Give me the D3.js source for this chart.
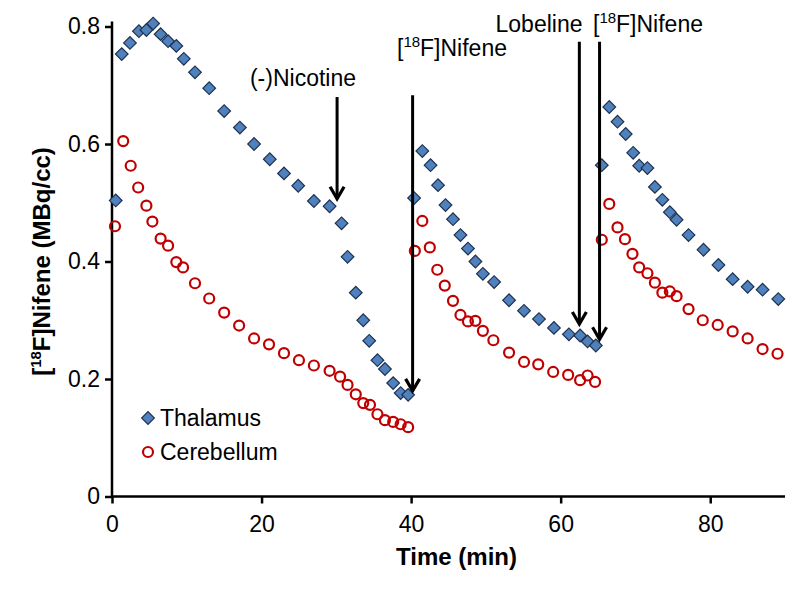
<!DOCTYPE html>
<html>
<head>
<meta charset="utf-8">
<script src="https://cdn.jsdelivr.net/npm/d3@7"></script>
<style>
  body { margin: 0; background: #fff; }
  svg { font-family: "Liberation Sans", Arial, sans-serif; }
</style>
</head>
<body>
<div id="chart"></div>
<script>
// thalamus: [time (min), value (MBq/cc)]
const thalamusT = [0.5, 1.3, 2.4, 3.6, 4.6, 5.5, 6.5, 7.5, 8.6, 9.6, 11.1, 13.0, 15.0, 17.1, 19.0, 21.1, 23.0, 24.9, 27.0, 29.1, 30.7, 31.5, 32.6, 33.6, 34.4, 35.5, 36.5, 37.6, 38.6, 39.6,
  40.4, 41.5, 42.6, 43.6, 44.6, 45.6, 46.6, 47.6, 48.6, 49.6, 51.1, 53.1, 55.1, 57.1, 59.1, 61.1, 62.6, 63.6, 64.7,
  65.5, 66.5, 67.6, 68.7, 69.7, 70.5, 71.6, 72.6, 73.6, 74.6, 75.5, 77.1, 79.1, 81.1, 83.0, 85.0, 87.0, 89.1];
const thalamusV = [0.504, 0.753, 0.772, 0.792, 0.794, 0.805, 0.787, 0.775, 0.767, 0.745, 0.722, 0.695, 0.656, 0.628, 0.600, 0.574, 0.550, 0.529, 0.503, 0.494, 0.465, 0.408, 0.347, 0.300, 0.265, 0.232, 0.217, 0.193, 0.176, 0.173,
  0.508, 0.588, 0.564, 0.530, 0.496, 0.472, 0.445, 0.422, 0.400, 0.379, 0.365, 0.334, 0.316, 0.302, 0.287, 0.276, 0.274, 0.264, 0.257,
  0.564, 0.663, 0.638, 0.617, 0.585, 0.563, 0.559, 0.527, 0.505, 0.484, 0.471, 0.445, 0.420, 0.394, 0.370, 0.357, 0.352, 0.336];

const cerebellumT = [0.4, 1.5, 2.5, 3.5, 4.6, 5.4, 6.5, 7.5, 8.6, 9.5, 11.1, 13.0, 15.0, 17.0, 19.0, 21.0, 23.0, 25.0, 27.0, 29.1, 30.5, 31.5, 32.6, 33.6, 34.5, 35.5, 36.5, 37.6, 38.6, 39.6,
  40.5, 41.5, 42.5, 43.5, 44.5, 45.6, 46.6, 47.6, 48.6, 49.6, 51.0, 53.1, 55.1, 57.0, 59.0, 61.0, 62.6, 63.6, 64.6,
  65.5, 66.5, 67.6, 68.6, 69.6, 70.5, 71.6, 72.6, 73.6, 74.6, 75.5, 77.1, 79.0, 81.0, 83.0, 85.0, 87.0, 89.0];
const cerebellumV = [0.460, 0.605, 0.563, 0.526, 0.495, 0.468, 0.439, 0.427, 0.399, 0.390, 0.363, 0.337, 0.313, 0.291, 0.269, 0.259, 0.244, 0.232, 0.223, 0.214, 0.204, 0.190, 0.174, 0.159, 0.156, 0.140, 0.130, 0.127, 0.123, 0.118,
  0.418, 0.469, 0.424, 0.386, 0.359, 0.333, 0.309, 0.298, 0.299, 0.282, 0.266, 0.245, 0.229, 0.225, 0.212, 0.207, 0.198, 0.206, 0.195,
  0.437, 0.498, 0.458, 0.438, 0.413, 0.390, 0.380, 0.364, 0.347, 0.349, 0.341, 0.319, 0.300, 0.292, 0.281, 0.269, 0.251, 0.243];

const xTicks = [0, 20, 40, 60, 80];
const yTicks = [0, 0.2, 0.4, 0.6, 0.8];

// injections / arrows: label, time, arrow top value, arrow tip value
const arrowLabels = ["(-)Nicotine", "[18F]Nifene", "Lobeline", "[18F]Nifene"];
const arrowTimes = [30.1, 40.2, 62.5, 65.2];
const arrowTops = [0.68, 0.683, 0.774, 0.774];
const arrowTips = [0.505, 0.178, 0.292, 0.266];

const W = 800, H = 589;
const x = d3.scaleLinear().domain([0, 90]).range([112, 785]);
const y = d3.scaleLinear().domain([0, 0.8]).range([496.5, 26.5]);

const svg = d3.select("#chart").append("svg")
  .attr("width", W).attr("height", H);

// axes
const xAxis = svg.append("g")
  .attr("transform", `translate(0,${y(0)})`)
  .call(d3.axisBottom(x).tickValues(xTicks).tickFormat(d3.format("d")).tickSizeInner(7).tickSizeOuter(0).tickPadding(12));
const yAxis = svg.append("g")
  .attr("transform", `translate(${x(0)},0)`)
  .call(d3.axisLeft(y).tickValues(yTicks).tickFormat(d => d === 0 ? "0" : d3.format(".1f")(d)).tickSizeInner(7).tickSizeOuter(0).tickPadding(5));

[xAxis, yAxis].forEach(g => {
  g.select(".domain").attr("stroke", "#000").attr("stroke-width", 2.5);
  g.selectAll(".tick line").attr("stroke", "#000").attr("stroke-width", 2.5);
  g.selectAll(".tick text").attr("fill", "#000").style("font-size", "23px")
    .style("font-family", "'Liberation Sans', Arial, sans-serif");
});
xAxis.select(".domain").attr("d", `M${x(0)},0H${x(90)}`);
yAxis.select(".domain").attr("d", `M0,${y(0)}V${y(0.8) - 5}`);

// axis titles
svg.append("text")
  .attr("x", (x(0) + x(90)) / 2 + 8).attr("y", 565)
  .attr("text-anchor", "middle")
  .style("font-size", "24px").style("font-weight", "bold")
  .text("Time (min)");

const yl = svg.append("text")
  .attr("transform", `translate(50,${y(0.4)}) rotate(-90)`)
  .attr("text-anchor", "middle")
  .style("font-size", "24px").style("font-weight", "bold");
yl.append("tspan").text("[");
yl.append("tspan").attr("dy", -9).style("font-size", "15px").text("18");
yl.append("tspan").attr("dy", 9).text("F]Nifene (MBq/cc)");

// markers
const thal = thalamusT.map((t, i) => [t, thalamusV[i]]);
const cer = cerebellumT.map((t, i) => [t, cerebellumV[i]]);
const diamond = d3.symbol().type(d3.symbolSquare).size(80);

svg.append("g").selectAll("path")
  .data(thal).enter().append("path")
  .attr("d", diamond)
  .attr("transform", d => `translate(${x(d[0])},${y(d[1])}) rotate(45)`)
  .attr("fill", "#4f81bd")
  .attr("stroke", "#1f3150")
  .attr("stroke-width", 1.2);

svg.append("g").selectAll("circle")
  .data(cer).enter().append("circle")
  .attr("cx", d => x(d[0]))
  .attr("cy", d => y(d[1]))
  .attr("r", 5)
  .attr("fill", "none")
  .attr("stroke", "#c00000")
  .attr("stroke-width", 2.2);

// arrows
const arrows = svg.append("g");
arrowTimes.forEach((t, i) => {
  const ax = x(t), top = y(arrowTops[i]), tip = y(arrowTips[i]);
  arrows.append("line")
    .attr("x1", ax).attr("x2", ax).attr("y1", top).attr("y2", tip - 1)
    .attr("stroke", "#000").attr("stroke-width", 3);
  arrows.append("path")
    .attr("d", `M${ax - 7},${tip - 13}L${ax},${tip - 1}L${ax + 7},${tip - 13}`)
    .attr("fill", "none").attr("stroke", "#000").attr("stroke-width", 3.2)
    .attr("stroke-linejoin", "miter");
});

// arrow labels
const labelPos = [[303, 86], [452, 56], [539, 32], [648, 32]];
arrowLabels.forEach((lab, i) => {
  const tx = svg.append("text")
    .attr("x", labelPos[i][0]).attr("y", labelPos[i][1])
    .attr("text-anchor", "middle")
    .style("font-size", "23px");
  if (lab.startsWith("[18F]")) {
    tx.append("tspan").text("[");
    tx.append("tspan").attr("dy", -9).style("font-size", "15px").text("18");
    tx.append("tspan").attr("dy", 9).text("F]Nifene");
  } else {
    tx.text(lab);
  }
});

// legend
const legend = svg.append("g");
legend.append("path").attr("d", diamond)
  .attr("transform", "translate(148,418) rotate(45)")
  .attr("fill", "#4f81bd").attr("stroke", "#1f3150").attr("stroke-width", 1.2);
legend.append("text").attr("x", 160).attr("y", 426).style("font-size", "23px").text("Thalamus");
legend.append("circle").attr("cx", 148).attr("cy", 452).attr("r", 5)
  .attr("fill", "none").attr("stroke", "#c00000").attr("stroke-width", 2.2);
legend.append("text").attr("x", 160).attr("y", 460).style("font-size", "23px").text("Cerebellum");
</script>
</body>
</html>
